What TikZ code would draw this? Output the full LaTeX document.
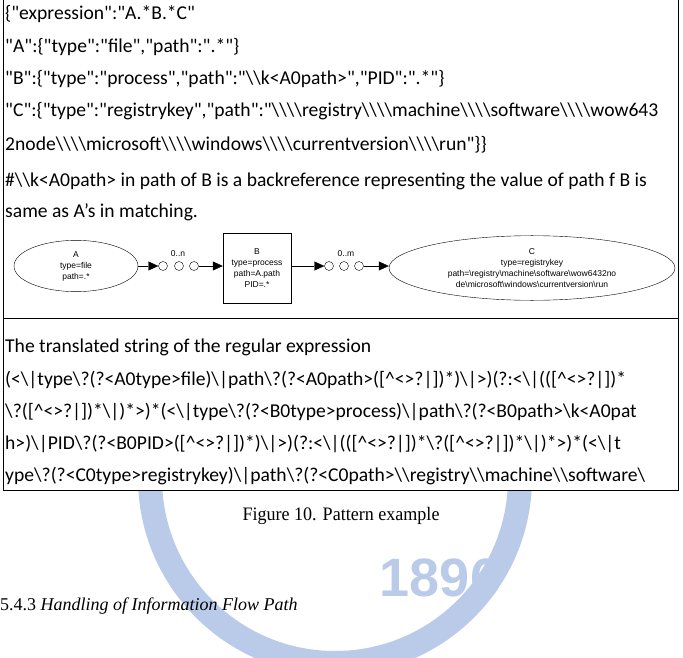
\documentclass[tikz,border=0pt]{standalone}
\usepackage{fontspec}
\usetikzlibrary{shapes.geometric,arrows.meta}
\newfontfamily\calf{Carlito}
\newfontfamily\arialf{Liberation Sans}
\newfontfamily\timesf{Liberation Serif}
\newcommand{\bs}{\textbackslash}
\newcommand{\ct}{\textasciicircum}
\definecolor{wm}{HTML}{B9CBE8}
\begin{document}
\begin{tikzpicture}[x=1pt,y=-1pt,
  ln/.style={anchor=base west,inner sep=0pt,font=\calf\fontsize{19.6}{19.6}\selectfont},
  sm/.style={font=\arialf\fontsize{8.5}{11}\selectfont,align=center},
  dot/.style={circle,draw,minimum size=9pt,inner sep=0pt},
  arr/.style={-{Triangle[length=10pt,width=9pt]}},
]
\useasboundingbox (0,0) rectangle (683,658);
% watermark
\draw[wm,line width=24pt] (335,478) circle (185);
\node[wm,font=\arialf\bfseries\fontsize{54}{54}\selectfont] (yr) at (440,578) {1896};
% box
\draw[fill=white] (3,-2) rectangle (678,490);
\node[ln] (l1) at (5,20) {\{"expression":"A.*B.*C"};
\node[ln] (l2) at (5,53) {"A":\{"type":"file","path":".*"\}};
\node[ln] (l3) at (5,85) {"B":\{"type":"process","path":"\bs\bs{}k<A0path>","PID":".*"\}};
\node[ln] (l4) at (5,117) {"C":\{"type":"registrykey","path":"\bs\bs\bs\bs{}registry\bs\bs\bs\bs{}machine\bs\bs\bs\bs{}software\bs\bs\bs\bs{}wow643};
\node[ln] (l5) at (5,150) {2node\bs\bs\bs\bs{}microsoft\bs\bs\bs\bs{}windows\bs\bs\bs\bs{}currentversion\bs\bs\bs\bs{}run"\}\}};
\node[ln] (l6) at (5,186) {\#\bs\bs{}k<A0path> in path of B is a backreference representing the value of path f B is};
\node[ln] (l7) at (5,217) {same as A’s in matching.};
\draw (3,318) -- (678,318);
\node[ln] (l8) at (5,352) {The translated string of the regular expression};
\node[ln] (l9) at (5,385) {(<\bs|type\bs?(?<A0type>file)\bs|path\bs?(?<A0path>([\ct<>?|])*)\bs|>)(?:<\bs|(([\ct<>?|])*};
\node[ln] (l10) at (5,417) {\bs?([\ct<>?|])*\bs|)*>)*(<\bs|type\bs?(?<B0type>process)\bs|path\bs?(?<B0path>\bs{}k<A0pat};
\node[ln] (l11) at (5,449) {h>)\bs|PID\bs?(?<B0PID>([\ct<>?|])*)\bs|>)(?:<\bs|(([\ct<>?|])*\bs?([\ct<>?|])*\bs|)*>)*(<\bs|t};
\node[ln] (l12) at (5,481) {ype\bs?(?<C0type>registrykey)\bs|path\bs?(?<C0path>\bs\bs{}registry\bs\bs{}machine\bs\bs{}software\bs};
% diagram
\node[draw,ellipse,minimum width=124pt,minimum height=45pt,sm] (A) at (76,266) {A\\type=file\\path=.*};
\node[dot] (a1) at (163,266) {};
\node[dot] (a2) at (179,266) {};
\node[dot] (a3) at (194,266) {};
\node[sm] (n) at (178,254) {0..n};
\node[draw,minimum width=68pt,minimum height=70pt,sm] (B) at (257,268) {B\\type=process\\path=A.path\\PID=.*};
\node[dot] (b1) at (329,266) {};
\node[dot] (b2) at (344,266) {};
\node[dot] (b3) at (359,266) {};
\node[sm] (m) at (346,254) {0..m};
\node[draw,ellipse,minimum width=286pt,minimum height=56pt,sm] (C) at (532,268) {C\\type=registrykey\\path=\textbackslash registry\textbackslash machine\textbackslash software\textbackslash wow6432no\\de\textbackslash microsoft\textbackslash windows\textbackslash currentversion\textbackslash run};
\draw[arr] (A) -- (a1);
\draw[arr] (a3) -- (B.west|-a3);
\draw[arr] (B.east|-a3) -- (b1);
\draw[arr] (b3) -- (C.west|-b3);
% captions
\node[font=\timesf\fontsize{19}{19}\selectfont,xscale=0.95] (cap) at (341,516) {Figure 10. Pattern example};
\node[anchor=base west,inner sep=0pt,font=\timesf\fontsize{18}{18}\selectfont] (sec) at (0,610) {5.4.3 \textit{Handling of Information Flow Path}};
\end{tikzpicture}
\end{document}
